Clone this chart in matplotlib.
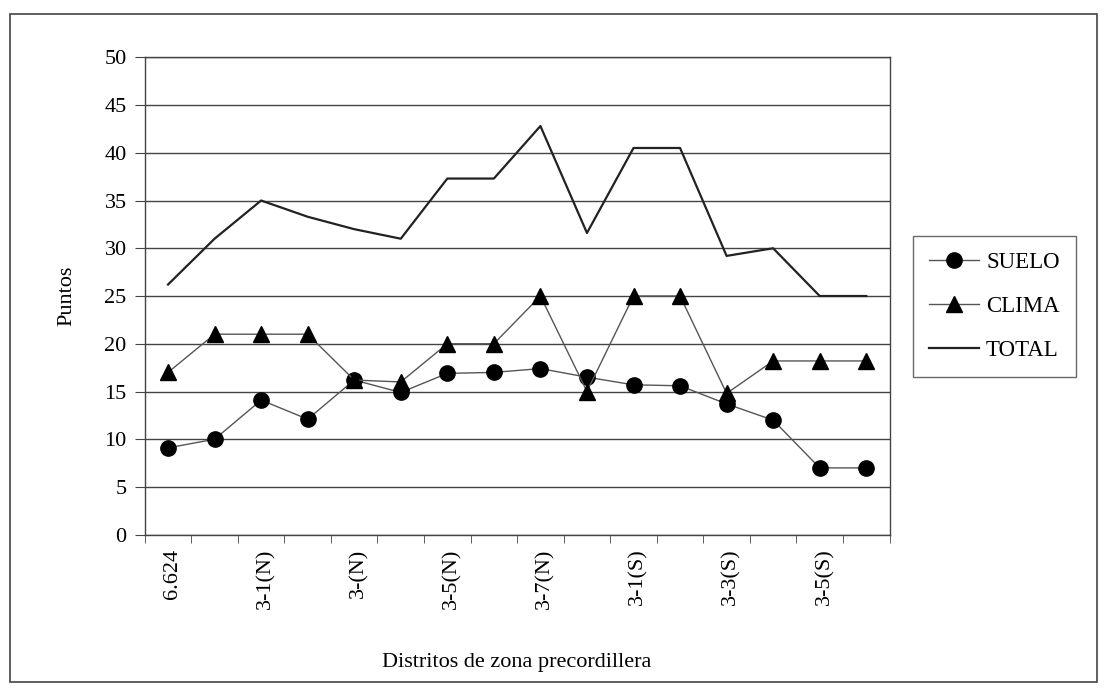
import matplotlib.pyplot as plt
from matplotlib.patches import Rectangle
from matplotlib.ticker import FixedLocator

plt.rcParams['font.family'] = ['Liberation Serif', 'DejaVu Serif']
plt.rcParams['font.size'] = 16

# categories (16 districts, only every other one is labelled)
distritos = ['6.624', '', '3-1(N)', '', '3-(N)', '', '3-5(N)', '',
             '3-7(N)', '', '3-1(S)', '', '3-3(S)', '', '3-5(S)', '']
suelo = [9.1, 10.0, 14.1, 12.1, 16.2, 14.9, 16.9, 17.0,
         17.4, 16.5, 15.7, 15.6, 13.7, 12.0, 7.0, 7.0]
clima = [17.0, 21.0, 21.0, 21.0, 16.2, 16.0, 20.0, 20.0,
         25.0, 15.0, 25.0, 25.0, 14.8, 18.2, 18.2, 18.2]
total = [26.2, 31.0, 35.0, 33.3, 32.0, 31.0, 37.3, 37.3,
         42.8, 31.6, 40.5, 40.5, 29.2, 30.0, 25.0, 25.0]

fig = plt.figure(figsize=(11.05, 6.9), dpi=100)
ax = fig.add_axes([0.131, 0.225, 0.674, 0.692])

x = list(range(len(distritos)))
ax.plot(x, suelo, color='#555555', lw=1, marker='o', ms=11,
        mfc='black', mec='black', label='SUELO', zorder=3)
ax.plot(x, clima, color='#555555', lw=1, marker='^', ms=11,
        mfc='black', mec='black', label='CLIMA', zorder=3)
ax.plot(x, total, color='#222222', lw=1.6, label='TOTAL', zorder=3)

ax.set_ylim(0, 50)
ax.set_yticks(range(0, 51, 5))
ax.yaxis.grid(True, color='#444444', lw=1)
ax.set_axisbelow(True)
ax.set_xlim(-0.5, len(distritos) - 0.5)
ax.set_xticks([i + 0.1 for i in x])
ax.set_xticklabels(distritos, rotation=90)
ax.xaxis.set_minor_locator(FixedLocator([i - 0.5 for i in range(len(distritos) + 1)]))
ax.tick_params(axis='x', which='major', length=0, pad=10)
ax.tick_params(axis='x', which='minor', length=6, color='#444444')
ax.tick_params(axis='y', length=7, color='#444444', pad=6)
for s in ax.spines.values():
    s.set_color('#444444')
    s.set_linewidth(1)

ax.set_ylabel('Puntos', labelpad=20)
ax.set_xlabel('Distritos de zona precordillera', labelpad=32)

leg = ax.legend(loc='upper left', bbox_to_anchor=(0.826, 0.658),
                bbox_transform=fig.transFigure, frameon=True, fancybox=False,
                edgecolor='#444444', handlelength=2.2, handletextpad=0.3,
                labelspacing=1.0, borderpad=0.7, borderaxespad=0, fontsize=16.5)
leg.get_frame().set_linewidth(1)

fig.patches.append(Rectangle((0.009, 0.012), 0.984, 0.968, transform=fig.transFigure,
                             fill=False, edgecolor='#444444', lw=1.2))

fig.savefig('out.png', dpi=100)
